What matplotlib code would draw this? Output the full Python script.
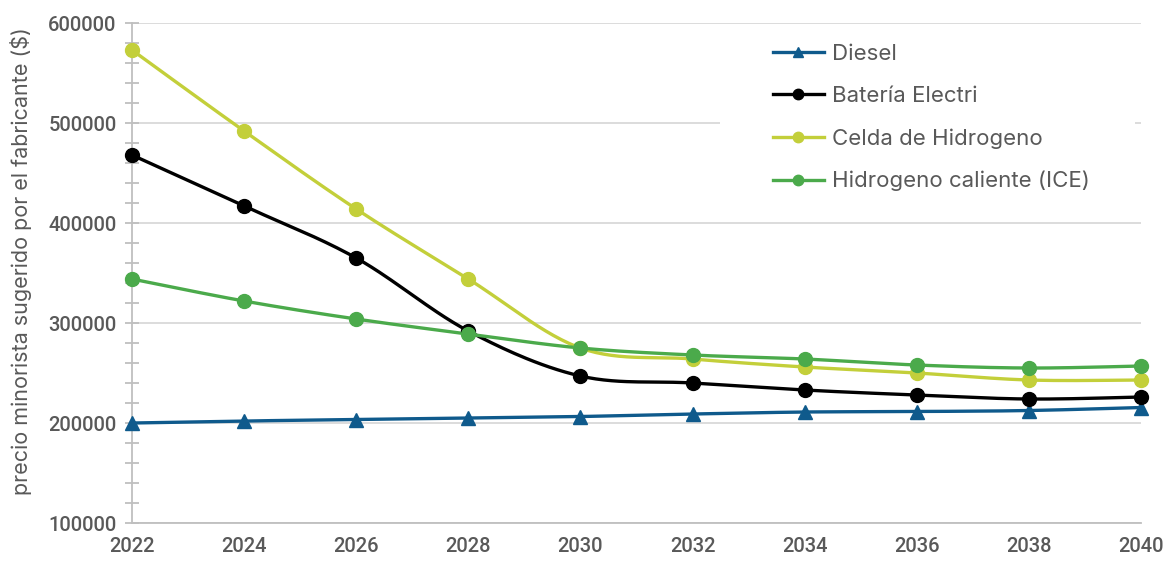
#!/usr/bin/env python3
"""
Precio minorista sugerido por tipo de camion, 2022-2040.
"""

import matplotlib.pyplot as plt
import matplotlib.patches as mpatches
import numpy as np

# ============================================================================
# DATA
# ============================================================================

years = [2022, 2024, 2026, 2028, 2030, 2032, 2034, 2036, 2038, 2040]

diesel = [200000, 202000, 203500, 205000, 206500, 209000, 211000, 211500, 212500, 215500]
bateria = [468000, 417000, 365000, 292000, 247000, 240000, 233000, 228000, 224000, 226000]
celda_h2 = [573000, 492000, 414000, 344000, 275000, 264000, 256000, 250000, 243000, 243000]
h2_ice = [344000, 322000, 304000, 289000, 275000, 268000, 264000, 258000, 255000, 257000]

series_names = ['Diesel', 'Batería Electri', 'Celda de Hidrogeno', 'Hidrogeno caliente (ICE)']

# ============================================================================
# Style
# ============================================================================

diesel_color = '#0F5A8C'
bateria_color = '#000000'
celda_color = '#C3CF3A'
ice_color = '#4BAA4B'
text_color = '#595959'
grid_color = '#D9D9D9'
axis_color = '#BFBFBF'

tick_font = 'Roboto'
label_font = 'Inter'


def smooth(x, y, n=30):
    """Excel-style smoothed line (Catmull-Rom Bezier) through the points."""
    x = np.asarray(x, float)
    y = np.asarray(y, float)
    px = np.concatenate([[x[0]], x, [x[-1]]])
    py = np.concatenate([[y[0]], y, [y[-1]]])
    xs, ys = [], []
    t = np.linspace(0, 1, n)
    for i in range(1, len(px) - 2):
        p0 = np.array([px[i], py[i]])
        p3 = np.array([px[i + 1], py[i + 1]])
        c1 = p0 + (np.array([px[i + 1], py[i + 1]]) - np.array([px[i - 1], py[i - 1]])) / 6
        c2 = p3 - (np.array([px[i + 2], py[i + 2]]) - np.array([px[i], py[i]])) / 6
        b = ((1 - t) ** 3)[:, None] * p0 + (3 * (1 - t) ** 2 * t)[:, None] * c1 \
            + (3 * (1 - t) * t ** 2)[:, None] * c2 + (t ** 3)[:, None] * p3
        xs.extend(b[:, 0])
        ys.extend(b[:, 1])
    return xs, ys


fig = plt.figure(figsize=(11.73, 5.61), dpi=100)
ax = fig.add_axes([0.1125, 0.0677, 0.8602, 0.8913])

series = [
    (diesel, diesel_color, '^'),
    (bateria, bateria_color, 'o'),
    (celda_h2, celda_color, 'o'),
    (h2_ice, ice_color, 'o'),
]

handles = []
for (vals, color, marker), name in zip(series, series_names):
    sx, sy = smooth(years, vals)
    ax.plot(sx, sy, color=color, linewidth=2.4, zorder=3, solid_capstyle='round')
    ax.plot(years, vals, linestyle='none', marker=marker, markersize=10,
            color=color, markeredgecolor=color, zorder=4, clip_on=False)
    handles.append(plt.Line2D([0], [0], color=color, linewidth=2.4,
                              marker=marker, markersize=7.5, label=name))

ax.set_xlim(2022, 2040)
ax.set_ylim(100000, 600000)
ax.set_xticks(years)
ax.set_yticks(np.arange(100000, 600001, 100000))
ax.set_yticks(np.arange(100000, 600001, 20000), minor=True)

ax.grid(True, axis='y', which='major', color=grid_color, linewidth=1.3, zorder=0)
ax.set_axisbelow(True)

for side in ['top', 'right']:
    ax.spines[side].set_visible(False)
ax.spines['left'].set_color(axis_color)
ax.spines['left'].set_linewidth(1.3)
ax.spines['bottom'].set_color(axis_color)
ax.spines['bottom'].set_linewidth(1.3)

ax.tick_params(axis='y', which='both', direction='inout', color=axis_color,
               width=1.3, length=10, labelcolor=text_color, pad=6)
ax.tick_params(axis='x', which='both', length=0, labelcolor=text_color, pad=10)

for lbl in ax.get_xticklabels() + ax.get_yticklabels():
    lbl.set_fontfamily(tick_font)
    lbl.set_fontsize(14.5)
    lbl.set_fontweight('medium')

ax.set_ylabel('precio minorista sugerido por el fabricante ($)', fontsize=15.5,
              color=text_color, family=label_font)
ax.yaxis.set_label_coords(-0.099, 0.524)

# white backing behind the legend, hides the grid like the original
ax.add_patch(mpatches.Rectangle((0.583, 0.626), 0.411, 0.364, transform=ax.transAxes,
                                facecolor='white', edgecolor='none', zorder=1))

leg = ax.legend(handles=handles, loc='upper left', bbox_to_anchor=(0.624, 0.981),
                frameon=False, borderpad=0, handlelength=2.3, handletextpad=0.35,
                labelspacing=1.0, prop={'family': label_font, 'size': 16})
for t in leg.get_texts():
    t.set_color(text_color)

plt.savefig('out.png', dpi=100, facecolor='white')
